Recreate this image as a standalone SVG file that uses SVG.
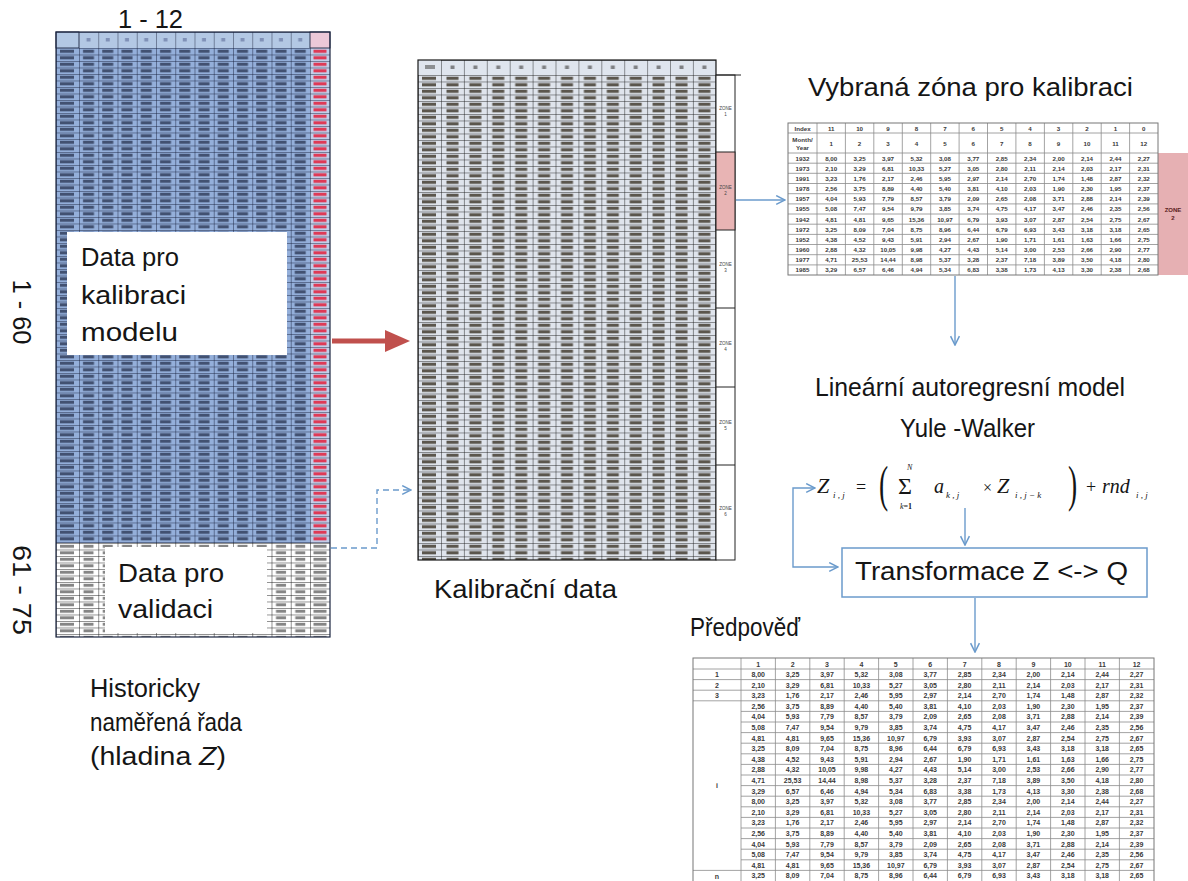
<svg xmlns="http://www.w3.org/2000/svg" width="1188" height="881" viewBox="0 0 1188 881">
<style>
.t{font-family:"Liberation Sans",Arial,sans-serif;fill:#151515;font-size:25px}
.v{font-family:"Liberation Sans",Arial,sans-serif;font-size:6.2px;font-weight:700;fill:#3a3a3a;text-anchor:middle}
.fv{font-family:"Liberation Sans",Arial,sans-serif;font-size:7px;font-weight:700;fill:#3a3a3a;text-anchor:middle}
.m{font-family:"Liberation Serif","Times New Roman",serif;fill:#151515}
.i{font-style:italic}
.ln{fill:none;stroke:#6b9bcc;stroke-width:1.4}
.g{stroke:#8c8c8c;stroke-width:0.8;fill:none}
</style>
<defs>
<pattern id="pBH" x="79" y="32" width="19.25" height="16" patternUnits="userSpaceOnUse"><rect width="19.25" height="16" fill="#b3c8e4"/><rect x="7.5" y="6" width="4" height="3.5" fill="#5d6d9a" opacity="0.6"/><path d="M0 0H19.25M0 0V16" stroke="#1b2540" stroke-width="0.9"/></pattern>
<pattern id="pB" x="79" y="48" width="19.25" height="6.5" patternUnits="userSpaceOnUse"><rect width="19.25" height="6.5" fill="#94afda"/><rect x="4" y="1.7" width="11" height="3.2" fill="#27314d" opacity="0.75"/><path d="M0 0H19.25M0 0V6.5" stroke="#16203a" stroke-width="0.9"/></pattern>
<pattern id="pBY" x="56" y="48" width="23" height="6.5" patternUnits="userSpaceOnUse"><rect width="23" height="6.5" fill="#94afda"/><rect x="4" y="1.7" width="14" height="3.2" fill="#27314d" opacity="0.75"/><path d="M0 0H23M0 0V6.5" stroke="#16203a" stroke-width="0.9"/></pattern>
<pattern id="pR" x="310" y="48" width="20" height="6.5" patternUnits="userSpaceOnUse"><rect width="20" height="6.5" fill="#c3cfea"/><rect x="3.5" y="1.7" width="13" height="3.2" fill="#e3203c" opacity="0.85"/><path d="M0 0H20M0 0V6.5" stroke="#16203a" stroke-width="0.9"/></pattern>
<pattern id="pW" x="79" y="543" width="19.25" height="6.5" patternUnits="userSpaceOnUse"><rect width="19.25" height="6.5" fill="#fff"/><rect x="4.5" y="1.8" width="10" height="3" fill="#333" opacity="0.6"/><path d="M0 0H19.25M0 0V6.5" stroke="#111" stroke-width="0.9"/></pattern>
<pattern id="pWY" x="56" y="543" width="23" height="6.5" patternUnits="userSpaceOnUse"><rect width="23" height="6.5" fill="#fff"/><rect x="4" y="1.8" width="14" height="3" fill="#333" opacity="0.6"/><path d="M0 0H23M0 0V6.5" stroke="#111" stroke-width="0.9"/></pattern>
<pattern id="pWR" x="310" y="543" width="20" height="6.5" patternUnits="userSpaceOnUse"><rect width="20" height="6.5" fill="#fff"/><rect x="3.5" y="1.8" width="13" height="3" fill="#333" opacity="0.6"/><path d="M0 0H20M0 0V6.5" stroke="#111" stroke-width="0.9"/></pattern>
<pattern id="pMH" x="441" y="60" width="22.9" height="15" patternUnits="userSpaceOnUse"><rect width="22.9" height="15" fill="#dfe5ee"/><rect x="9.5" y="5.5" width="4" height="3.5" fill="#555" opacity="0.7"/><path d="M0 0H22.9M0 0V15" stroke="#1a1a1a" stroke-width="0.9"/></pattern>
<pattern id="pM" x="441" y="75" width="22.9" height="6.5" patternUnits="userSpaceOnUse"><rect width="22.9" height="6.5" fill="#dfe4ec"/><rect x="5.5" y="1.7" width="12" height="3.2" fill="#3a3225" opacity="0.8"/><path d="M0 0H22.9M0 0V6.5" stroke="#1a1a1a" stroke-width="0.9"/></pattern>
<pattern id="pMY" x="418" y="75" width="23" height="6.5" patternUnits="userSpaceOnUse"><rect width="23" height="6.5" fill="#dfe4ec"/><rect x="4" y="1.7" width="14" height="3.2" fill="#3a3225" opacity="0.8"/><path d="M0 0H23M0 0V6.5" stroke="#1a1a1a" stroke-width="0.9"/></pattern>
<marker id="ah" viewBox="0 0 10 10" refX="9" refY="5" markerWidth="11" markerHeight="11" markerUnits="userSpaceOnUse" orient="auto-start-reverse"><path d="M1,1 L9,5 L1,9" fill="none" stroke="#6b9bcc" stroke-width="1.4"/></marker>
</defs>
<rect width="1188" height="881" fill="#fff"/>

<g id="historical-table">
<rect x="56" y="32" width="23" height="16" fill="#b3c8e4" stroke="#1b2540" stroke-width="0.9"/>
<rect x="79" y="32" width="231" height="16" fill="url(#pBH)"/>
<rect x="310" y="32" width="20" height="16" fill="#ecc8d8" stroke="#1b2540" stroke-width="0.9"/>
<rect x="56" y="48" width="23" height="495" fill="url(#pBY)"/>
<rect x="79" y="48" width="231" height="495" fill="url(#pB)"/>
<rect x="310" y="48" width="20" height="495" fill="url(#pR)"/>
<rect x="56" y="543" width="23" height="94" fill="url(#pWY)"/>
<rect x="79" y="543" width="231" height="94" fill="url(#pW)"/>
<rect x="310" y="543" width="20" height="94" fill="url(#pWR)"/>
<rect x="56" y="32" width="274" height="605" fill="none" stroke="#1b2540" stroke-width="1.2"/>
<text class="t" x="118" y="28" textLength="65" lengthAdjust="spacingAndGlyphs">1 - 12</text>
<text class="t" transform="translate(13,312) rotate(90)" text-anchor="middle" textLength="65" lengthAdjust="spacingAndGlyphs">1 - 60</text>
<text class="t" transform="translate(13,590) rotate(90)" text-anchor="middle" textLength="90" lengthAdjust="spacingAndGlyphs">61 - 75</text>
</g>

<g id="calibration-box">
<rect x="67" y="232" width="220" height="123" fill="#fff"/>
<text class="t" x="81" y="266" textLength="98" lengthAdjust="spacingAndGlyphs">Data pro</text>
<text class="t" x="81" y="304" textLength="105" lengthAdjust="spacingAndGlyphs">kalibraci</text>
<text class="t" x="81" y="341" textLength="97" lengthAdjust="spacingAndGlyphs">modelu</text>
</g>

<g id="validation-box">
<rect x="105" y="547" width="162" height="86" fill="#fff"/>
<text class="t" x="118" y="582" textLength="106" lengthAdjust="spacingAndGlyphs">Data pro</text>
<text class="t" x="118" y="618" textLength="95" lengthAdjust="spacingAndGlyphs">validaci</text>
</g>

<g id="historical-label">
<text class="t" x="90" y="697" textLength="110" lengthAdjust="spacingAndGlyphs">Historicky</text>
<text class="t" x="90" y="731" textLength="152" lengthAdjust="spacingAndGlyphs">naměřená řada</text>
<text class="t" x="90" y="765" textLength="136" lengthAdjust="spacingAndGlyphs">(hladina <tspan font-style="italic">Z</tspan>)</text>
</g>

<g id="calibration-table">
<rect x="418" y="60" width="23" height="15" fill="#dfe5ee"/>
<rect x="425" y="65" width="10" height="4" fill="#555" opacity="0.6"/>
<rect x="441" y="60" width="275" height="15" fill="url(#pMH)"/>
<rect x="418" y="75" width="23" height="485" fill="url(#pMY)"/>
<rect x="441" y="75" width="275" height="485" fill="url(#pM)"/>
<rect x="418" y="60" width="298" height="500" fill="none" stroke="#1a1a1a" stroke-width="1.2"/>
<rect x="716" y="75" width="19" height="485" fill="#fff" stroke="#222" stroke-width="1"/>
<rect x="716" y="152" width="19" height="78" fill="#e8b4b4" stroke="#222" stroke-width="1"/>
<path d="M716 75H741M716 308H735M716 387H735M716 465H735" stroke="#222" stroke-width="1"/>
<g font-family="Liberation Sans, Arial, sans-serif" font-size="4.5" fill="#444" text-anchor="middle">
<text x="725.5" y="110">ZONE</text><text x="725.5" y="116">1</text>
<text x="725.5" y="189">ZONE</text><text x="725.5" y="195">2</text>
<text x="725.5" y="266">ZONE</text><text x="725.5" y="272">3</text>
<text x="725.5" y="345">ZONE</text><text x="725.5" y="351">4</text>
<text x="725.5" y="424">ZONE</text><text x="725.5" y="430">5</text>
<text x="725.5" y="510">ZONE</text><text x="725.5" y="516">6</text>
</g>
<text class="t" x="434" y="598" textLength="183" lengthAdjust="spacingAndGlyphs">Kalibrační data</text>
</g>

<g id="selected-zone">
<text class="t" x="808" y="96" textLength="325" lengthAdjust="spacingAndGlyphs">Vybraná zóna pro kalibraci</text>
<rect x="788" y="123" width="370" height="152" fill="#fff"/>
<rect x="1158" y="153" width="30" height="122" fill="#e6b0b3"/>
<text x="1173" y="212" font-family="Liberation Sans, Arial, sans-serif" font-size="6" font-weight="700" fill="#5a2020" text-anchor="middle">ZONE</text>
<text x="1173" y="220" font-family="Liberation Sans, Arial, sans-serif" font-size="6" font-weight="700" fill="#5a2020" text-anchor="middle">2</text>
<path class="g" d="M817 123V275M845.4 123V275M873.8 123V275M902.3 123V275M930.7 123V275M959.1 123V275M987.5 123V275M1015.9 123V275M1044.4 123V275M1072.8 123V275M1101.2 123V275M1129.6 123V275M788 133H1158M788 153H1158M788 163.2H1158M788 173.3H1158M788 183.5H1158M788 193.7H1158M788 203.9H1158M788 214H1158M788 224.2H1158M788 234.4H1158M788 244.5H1158M788 254.7H1158M788 264.9H1158"/>
<rect x="788" y="123" width="370" height="152" fill="none" stroke="#777" stroke-width="1"/>
<text class="v" y="130.5"><tspan x="802.5">Index</tspan><tspan x="831.2">11</tspan><tspan x="859.6">10</tspan><tspan x="888">9</tspan><tspan x="916.5">8</tspan><tspan x="944.9">7</tspan><tspan x="973.3">6</tspan><tspan x="1001.7">5</tspan><tspan x="1030.1">4</tspan><tspan x="1058.6">3</tspan><tspan x="1087">2</tspan><tspan x="1115.4">1</tspan><tspan x="1143.8">0</tspan></text>
<text class="v" x="802.5" y="141.5">Month/</text>
<text class="v" x="802.5" y="149.5">Year</text>
<text class="v" y="145.5"><tspan x="831.2">1</tspan><tspan x="859.6">2</tspan><tspan x="888">3</tspan><tspan x="916.5">4</tspan><tspan x="944.9">5</tspan><tspan x="973.3">6</tspan><tspan x="1001.7">7</tspan><tspan x="1030.1">8</tspan><tspan x="1058.6">9</tspan><tspan x="1087">10</tspan><tspan x="1115.4">11</tspan><tspan x="1143.8">12</tspan></text>
<text class="v" y="160.5"><tspan x="802.5">1932</tspan><tspan x="831.2">8,00</tspan><tspan x="859.6">3,25</tspan><tspan x="888">3,97</tspan><tspan x="916.5">5,32</tspan><tspan x="944.9">3,08</tspan><tspan x="973.3">3,77</tspan><tspan x="1001.7">2,85</tspan><tspan x="1030.1">2,34</tspan><tspan x="1058.6">2,00</tspan><tspan x="1087">2,14</tspan><tspan x="1115.4">2,44</tspan><tspan x="1143.8">2,27</tspan></text>
<text class="v" y="170.6"><tspan x="802.5">1973</tspan><tspan x="831.2">2,10</tspan><tspan x="859.6">3,29</tspan><tspan x="888">6,81</tspan><tspan x="916.5">10,33</tspan><tspan x="944.9">5,27</tspan><tspan x="973.3">3,05</tspan><tspan x="1001.7">2,80</tspan><tspan x="1030.1">2,11</tspan><tspan x="1058.6">2,14</tspan><tspan x="1087">2,03</tspan><tspan x="1115.4">2,17</tspan><tspan x="1143.8">2,31</tspan></text>
<text class="v" y="180.8"><tspan x="802.5">1991</tspan><tspan x="831.2">3,23</tspan><tspan x="859.6">1,76</tspan><tspan x="888">2,17</tspan><tspan x="916.5">2,46</tspan><tspan x="944.9">5,95</tspan><tspan x="973.3">2,97</tspan><tspan x="1001.7">2,14</tspan><tspan x="1030.1">2,70</tspan><tspan x="1058.6">1,74</tspan><tspan x="1087">1,48</tspan><tspan x="1115.4">2,87</tspan><tspan x="1143.8">2,32</tspan></text>
<text class="v" y="191"><tspan x="802.5">1978</tspan><tspan x="831.2">2,56</tspan><tspan x="859.6">3,75</tspan><tspan x="888">8,89</tspan><tspan x="916.5">4,40</tspan><tspan x="944.9">5,40</tspan><tspan x="973.3">3,81</tspan><tspan x="1001.7">4,10</tspan><tspan x="1030.1">2,03</tspan><tspan x="1058.6">1,90</tspan><tspan x="1087">2,30</tspan><tspan x="1115.4">1,95</tspan><tspan x="1143.8">2,37</tspan></text>
<text class="v" y="201.2"><tspan x="802.5">1957</tspan><tspan x="831.2">4,04</tspan><tspan x="859.6">5,93</tspan><tspan x="888">7,79</tspan><tspan x="916.5">8,57</tspan><tspan x="944.9">3,79</tspan><tspan x="973.3">2,09</tspan><tspan x="1001.7">2,65</tspan><tspan x="1030.1">2,08</tspan><tspan x="1058.6">3,71</tspan><tspan x="1087">2,88</tspan><tspan x="1115.4">2,14</tspan><tspan x="1143.8">2,39</tspan></text>
<text class="v" y="211.3"><tspan x="802.5">1955</tspan><tspan x="831.2">5,08</tspan><tspan x="859.6">7,47</tspan><tspan x="888">9,54</tspan><tspan x="916.5">9,79</tspan><tspan x="944.9">3,85</tspan><tspan x="973.3">3,74</tspan><tspan x="1001.7">4,75</tspan><tspan x="1030.1">4,17</tspan><tspan x="1058.6">3,47</tspan><tspan x="1087">2,46</tspan><tspan x="1115.4">2,35</tspan><tspan x="1143.8">2,56</tspan></text>
<text class="v" y="221.5"><tspan x="802.5">1942</tspan><tspan x="831.2">4,81</tspan><tspan x="859.6">4,81</tspan><tspan x="888">9,65</tspan><tspan x="916.5">15,36</tspan><tspan x="944.9">10,97</tspan><tspan x="973.3">6,79</tspan><tspan x="1001.7">3,93</tspan><tspan x="1030.1">3,07</tspan><tspan x="1058.6">2,87</tspan><tspan x="1087">2,54</tspan><tspan x="1115.4">2,75</tspan><tspan x="1143.8">2,67</tspan></text>
<text class="v" y="231.7"><tspan x="802.5">1972</tspan><tspan x="831.2">3,25</tspan><tspan x="859.6">8,09</tspan><tspan x="888">7,04</tspan><tspan x="916.5">8,75</tspan><tspan x="944.9">8,96</tspan><tspan x="973.3">6,44</tspan><tspan x="1001.7">6,79</tspan><tspan x="1030.1">6,93</tspan><tspan x="1058.6">3,43</tspan><tspan x="1087">3,18</tspan><tspan x="1115.4">3,18</tspan><tspan x="1143.8">2,65</tspan></text>
<text class="v" y="241.9"><tspan x="802.5">1952</tspan><tspan x="831.2">4,38</tspan><tspan x="859.6">4,52</tspan><tspan x="888">9,43</tspan><tspan x="916.5">5,91</tspan><tspan x="944.9">2,94</tspan><tspan x="973.3">2,67</tspan><tspan x="1001.7">1,90</tspan><tspan x="1030.1">1,71</tspan><tspan x="1058.6">1,61</tspan><tspan x="1087">1,63</tspan><tspan x="1115.4">1,66</tspan><tspan x="1143.8">2,75</tspan></text>
<text class="v" y="252"><tspan x="802.5">1960</tspan><tspan x="831.2">2,88</tspan><tspan x="859.6">4,32</tspan><tspan x="888">10,05</tspan><tspan x="916.5">9,98</tspan><tspan x="944.9">4,27</tspan><tspan x="973.3">4,43</tspan><tspan x="1001.7">5,14</tspan><tspan x="1030.1">3,00</tspan><tspan x="1058.6">2,53</tspan><tspan x="1087">2,66</tspan><tspan x="1115.4">2,90</tspan><tspan x="1143.8">2,77</tspan></text>
<text class="v" y="262.2"><tspan x="802.5">1977</tspan><tspan x="831.2">4,71</tspan><tspan x="859.6">25,53</tspan><tspan x="888">14,44</tspan><tspan x="916.5">8,98</tspan><tspan x="944.9">5,37</tspan><tspan x="973.3">3,28</tspan><tspan x="1001.7">2,37</tspan><tspan x="1030.1">7,18</tspan><tspan x="1058.6">3,89</tspan><tspan x="1087">3,50</tspan><tspan x="1115.4">4,18</tspan><tspan x="1143.8">2,80</tspan></text>
<text class="v" y="272.4"><tspan x="802.5">1985</tspan><tspan x="831.2">3,29</tspan><tspan x="859.6">6,57</tspan><tspan x="888">6,46</tspan><tspan x="916.5">4,94</tspan><tspan x="944.9">5,34</tspan><tspan x="973.3">6,83</tspan><tspan x="1001.7">3,38</tspan><tspan x="1030.1">1,73</tspan><tspan x="1058.6">4,13</tspan><tspan x="1087">3,30</tspan><tspan x="1115.4">2,38</tspan><tspan x="1143.8">2,68</tspan></text>
</g>

<g id="model-title">
<text class="t" x="815" y="396" textLength="310" lengthAdjust="spacingAndGlyphs">Lineární autoregresní model</text>
<text class="t" x="900" y="437" textLength="135" lengthAdjust="spacingAndGlyphs">Yule -Walker</text>
</g>

<g id="formula">
<text class="m i" x="817" y="493" font-size="22">Z</text>
<text class="m i" x="833" y="498" font-size="9">i , j</text>
<text class="m" x="856" y="493" font-size="18">=</text>
<text class="m" transform="translate(879,501) scale(0.55,1)" font-size="50">(</text>
<text class="m" x="898" y="494" font-size="24">Σ</text>
<text class="m i" x="907" y="470" font-size="8">N</text>
<text class="m" x="900" y="509" font-size="8"><tspan font-style="italic">k</tspan><tspan font-weight="700">=1</tspan></text>
<text class="m i" x="934" y="493" font-size="20">a</text>
<text class="m i" x="946" y="498" font-size="9">k , j</text>
<text class="m" x="983" y="493" font-size="16">×</text>
<text class="m i" x="997" y="493" font-size="22">Z</text>
<text class="m i" x="1015" y="498" font-size="9">i , j − k</text>
<text class="m" transform="translate(1068,501) scale(0.55,1)" font-size="50">)</text>
<text class="m" x="1086" y="493" font-size="18">+</text>
<text class="m i" x="1102" y="493" font-size="20">rnd</text>
<text class="m i" x="1136" y="498" font-size="9">i , j</text>
</g>

<g id="transformation">
<rect x="842" y="548" width="305" height="49" fill="#fff" stroke="#6b9bcc" stroke-width="1.5"/>
<text class="t" x="855" y="580" textLength="273" lengthAdjust="spacingAndGlyphs">Transformace Z &lt;-&gt; Q</text>
</g>

<g id="forecast">
<text class="t" x="690" y="636" textLength="110" lengthAdjust="spacingAndGlyphs">Předpověď</text>
<rect x="693" y="658" width="461" height="230" fill="#fff"/>
<path class="g" d="M741 658V881M775.4 658V881M809.8 658V881M844.2 658V881M878.6 658V881M913 658V881M947.4 658V881M981.8 658V881M1016.2 658V881M1050.6 658V881M1085 658V881M1119.4 658V881M693 669H1154M693 679.6H1154M693 690.2H1154M693 700.8H1154M741 711.4H1154M741 722H1154M741 732.6H1154M741 743.2H1154M741 753.8H1154M741 764.4H1154M741 775H1154M741 785.6H1154M741 796.2H1154M741 806.8H1154M741 817.4H1154M741 828H1154M741 838.6H1154M741 849.2H1154M741 859.8H1154M693 870.4H1154"/>
<rect x="693" y="658" width="461" height="230" fill="none" stroke="#777" stroke-width="1"/>
<text class="fv" y="666.5"><tspan x="758.2">1</tspan><tspan x="792.6">2</tspan><tspan x="827">3</tspan><tspan x="861.4">4</tspan><tspan x="895.8">5</tspan><tspan x="930.2">6</tspan><tspan x="964.6">7</tspan><tspan x="999">8</tspan><tspan x="1033.4">9</tspan><tspan x="1067.8">10</tspan><tspan x="1102.2">11</tspan><tspan x="1136.6">12</tspan></text>
<text class="fv" x="717" y="677">1</text>
<text class="fv" x="717" y="687.6">2</text>
<text class="fv" x="717" y="698.2">3</text>
<text class="fv" x="717" y="788">i</text>
<text class="fv" x="717" y="878.5">n</text>
<text class="fv" y="676.9"><tspan x="758.2">8,00</tspan><tspan x="792.6">3,25</tspan><tspan x="827">3,97</tspan><tspan x="861.4">5,32</tspan><tspan x="895.8">3,08</tspan><tspan x="930.2">3,77</tspan><tspan x="964.6">2,85</tspan><tspan x="999">2,34</tspan><tspan x="1033.4">2,00</tspan><tspan x="1067.8">2,14</tspan><tspan x="1102.2">2,44</tspan><tspan x="1136.6">2,27</tspan></text>
<text class="fv" y="687.5"><tspan x="758.2">2,10</tspan><tspan x="792.6">3,29</tspan><tspan x="827">6,81</tspan><tspan x="861.4">10,33</tspan><tspan x="895.8">5,27</tspan><tspan x="930.2">3,05</tspan><tspan x="964.6">2,80</tspan><tspan x="999">2,11</tspan><tspan x="1033.4">2,14</tspan><tspan x="1067.8">2,03</tspan><tspan x="1102.2">2,17</tspan><tspan x="1136.6">2,31</tspan></text>
<text class="fv" y="698.1"><tspan x="758.2">3,23</tspan><tspan x="792.6">1,76</tspan><tspan x="827">2,17</tspan><tspan x="861.4">2,46</tspan><tspan x="895.8">5,95</tspan><tspan x="930.2">2,97</tspan><tspan x="964.6">2,14</tspan><tspan x="999">2,70</tspan><tspan x="1033.4">1,74</tspan><tspan x="1067.8">1,48</tspan><tspan x="1102.2">2,87</tspan><tspan x="1136.6">2,32</tspan></text>
<text class="fv" y="708.7"><tspan x="758.2">2,56</tspan><tspan x="792.6">3,75</tspan><tspan x="827">8,89</tspan><tspan x="861.4">4,40</tspan><tspan x="895.8">5,40</tspan><tspan x="930.2">3,81</tspan><tspan x="964.6">4,10</tspan><tspan x="999">2,03</tspan><tspan x="1033.4">1,90</tspan><tspan x="1067.8">2,30</tspan><tspan x="1102.2">1,95</tspan><tspan x="1136.6">2,37</tspan></text>
<text class="fv" y="719.3"><tspan x="758.2">4,04</tspan><tspan x="792.6">5,93</tspan><tspan x="827">7,79</tspan><tspan x="861.4">8,57</tspan><tspan x="895.8">3,79</tspan><tspan x="930.2">2,09</tspan><tspan x="964.6">2,65</tspan><tspan x="999">2,08</tspan><tspan x="1033.4">3,71</tspan><tspan x="1067.8">2,88</tspan><tspan x="1102.2">2,14</tspan><tspan x="1136.6">2,39</tspan></text>
<text class="fv" y="729.9"><tspan x="758.2">5,08</tspan><tspan x="792.6">7,47</tspan><tspan x="827">9,54</tspan><tspan x="861.4">9,79</tspan><tspan x="895.8">3,85</tspan><tspan x="930.2">3,74</tspan><tspan x="964.6">4,75</tspan><tspan x="999">4,17</tspan><tspan x="1033.4">3,47</tspan><tspan x="1067.8">2,46</tspan><tspan x="1102.2">2,35</tspan><tspan x="1136.6">2,56</tspan></text>
<text class="fv" y="740.5"><tspan x="758.2">4,81</tspan><tspan x="792.6">4,81</tspan><tspan x="827">9,65</tspan><tspan x="861.4">15,36</tspan><tspan x="895.8">10,97</tspan><tspan x="930.2">6,79</tspan><tspan x="964.6">3,93</tspan><tspan x="999">3,07</tspan><tspan x="1033.4">2,87</tspan><tspan x="1067.8">2,54</tspan><tspan x="1102.2">2,75</tspan><tspan x="1136.6">2,67</tspan></text>
<text class="fv" y="751.1"><tspan x="758.2">3,25</tspan><tspan x="792.6">8,09</tspan><tspan x="827">7,04</tspan><tspan x="861.4">8,75</tspan><tspan x="895.8">8,96</tspan><tspan x="930.2">6,44</tspan><tspan x="964.6">6,79</tspan><tspan x="999">6,93</tspan><tspan x="1033.4">3,43</tspan><tspan x="1067.8">3,18</tspan><tspan x="1102.2">3,18</tspan><tspan x="1136.6">2,65</tspan></text>
<text class="fv" y="761.7"><tspan x="758.2">4,38</tspan><tspan x="792.6">4,52</tspan><tspan x="827">9,43</tspan><tspan x="861.4">5,91</tspan><tspan x="895.8">2,94</tspan><tspan x="930.2">2,67</tspan><tspan x="964.6">1,90</tspan><tspan x="999">1,71</tspan><tspan x="1033.4">1,61</tspan><tspan x="1067.8">1,63</tspan><tspan x="1102.2">1,66</tspan><tspan x="1136.6">2,75</tspan></text>
<text class="fv" y="772.3"><tspan x="758.2">2,88</tspan><tspan x="792.6">4,32</tspan><tspan x="827">10,05</tspan><tspan x="861.4">9,98</tspan><tspan x="895.8">4,27</tspan><tspan x="930.2">4,43</tspan><tspan x="964.6">5,14</tspan><tspan x="999">3,00</tspan><tspan x="1033.4">2,53</tspan><tspan x="1067.8">2,66</tspan><tspan x="1102.2">2,90</tspan><tspan x="1136.6">2,77</tspan></text>
<text class="fv" y="782.9"><tspan x="758.2">4,71</tspan><tspan x="792.6">25,53</tspan><tspan x="827">14,44</tspan><tspan x="861.4">8,98</tspan><tspan x="895.8">5,37</tspan><tspan x="930.2">3,28</tspan><tspan x="964.6">2,37</tspan><tspan x="999">7,18</tspan><tspan x="1033.4">3,89</tspan><tspan x="1067.8">3,50</tspan><tspan x="1102.2">4,18</tspan><tspan x="1136.6">2,80</tspan></text>
<text class="fv" y="793.5"><tspan x="758.2">3,29</tspan><tspan x="792.6">6,57</tspan><tspan x="827">6,46</tspan><tspan x="861.4">4,94</tspan><tspan x="895.8">5,34</tspan><tspan x="930.2">6,83</tspan><tspan x="964.6">3,38</tspan><tspan x="999">1,73</tspan><tspan x="1033.4">4,13</tspan><tspan x="1067.8">3,30</tspan><tspan x="1102.2">2,38</tspan><tspan x="1136.6">2,68</tspan></text>
<text class="fv" y="804.1"><tspan x="758.2">8,00</tspan><tspan x="792.6">3,25</tspan><tspan x="827">3,97</tspan><tspan x="861.4">5,32</tspan><tspan x="895.8">3,08</tspan><tspan x="930.2">3,77</tspan><tspan x="964.6">2,85</tspan><tspan x="999">2,34</tspan><tspan x="1033.4">2,00</tspan><tspan x="1067.8">2,14</tspan><tspan x="1102.2">2,44</tspan><tspan x="1136.6">2,27</tspan></text>
<text class="fv" y="814.7"><tspan x="758.2">2,10</tspan><tspan x="792.6">3,29</tspan><tspan x="827">6,81</tspan><tspan x="861.4">10,33</tspan><tspan x="895.8">5,27</tspan><tspan x="930.2">3,05</tspan><tspan x="964.6">2,80</tspan><tspan x="999">2,11</tspan><tspan x="1033.4">2,14</tspan><tspan x="1067.8">2,03</tspan><tspan x="1102.2">2,17</tspan><tspan x="1136.6">2,31</tspan></text>
<text class="fv" y="825.3"><tspan x="758.2">3,23</tspan><tspan x="792.6">1,76</tspan><tspan x="827">2,17</tspan><tspan x="861.4">2,46</tspan><tspan x="895.8">5,95</tspan><tspan x="930.2">2,97</tspan><tspan x="964.6">2,14</tspan><tspan x="999">2,70</tspan><tspan x="1033.4">1,74</tspan><tspan x="1067.8">1,48</tspan><tspan x="1102.2">2,87</tspan><tspan x="1136.6">2,32</tspan></text>
<text class="fv" y="835.9"><tspan x="758.2">2,56</tspan><tspan x="792.6">3,75</tspan><tspan x="827">8,89</tspan><tspan x="861.4">4,40</tspan><tspan x="895.8">5,40</tspan><tspan x="930.2">3,81</tspan><tspan x="964.6">4,10</tspan><tspan x="999">2,03</tspan><tspan x="1033.4">1,90</tspan><tspan x="1067.8">2,30</tspan><tspan x="1102.2">1,95</tspan><tspan x="1136.6">2,37</tspan></text>
<text class="fv" y="846.5"><tspan x="758.2">4,04</tspan><tspan x="792.6">5,93</tspan><tspan x="827">7,79</tspan><tspan x="861.4">8,57</tspan><tspan x="895.8">3,79</tspan><tspan x="930.2">2,09</tspan><tspan x="964.6">2,65</tspan><tspan x="999">2,08</tspan><tspan x="1033.4">3,71</tspan><tspan x="1067.8">2,88</tspan><tspan x="1102.2">2,14</tspan><tspan x="1136.6">2,39</tspan></text>
<text class="fv" y="857.1"><tspan x="758.2">5,08</tspan><tspan x="792.6">7,47</tspan><tspan x="827">9,54</tspan><tspan x="861.4">9,79</tspan><tspan x="895.8">3,85</tspan><tspan x="930.2">3,74</tspan><tspan x="964.6">4,75</tspan><tspan x="999">4,17</tspan><tspan x="1033.4">3,47</tspan><tspan x="1067.8">2,46</tspan><tspan x="1102.2">2,35</tspan><tspan x="1136.6">2,56</tspan></text>
<text class="fv" y="867.7"><tspan x="758.2">4,81</tspan><tspan x="792.6">4,81</tspan><tspan x="827">9,65</tspan><tspan x="861.4">15,36</tspan><tspan x="895.8">10,97</tspan><tspan x="930.2">6,79</tspan><tspan x="964.6">3,93</tspan><tspan x="999">3,07</tspan><tspan x="1033.4">2,87</tspan><tspan x="1067.8">2,54</tspan><tspan x="1102.2">2,75</tspan><tspan x="1136.6">2,67</tspan></text>
<text class="fv" y="878.3"><tspan x="758.2">3,25</tspan><tspan x="792.6">8,09</tspan><tspan x="827">7,04</tspan><tspan x="861.4">8,75</tspan><tspan x="895.8">8,96</tspan><tspan x="930.2">6,44</tspan><tspan x="964.6">6,79</tspan><tspan x="999">6,93</tspan><tspan x="1033.4">3,43</tspan><tspan x="1067.8">3,18</tspan><tspan x="1102.2">3,18</tspan><tspan x="1136.6">2,65</tspan></text>
</g>

<g id="connectors">
<path d="M332 341H388" stroke="#c0504d" stroke-width="5" fill="none"/>
<polygon points="385,330 410,341 385,352" fill="#c0504d"/>
<path class="ln" d="M331 548H377V490H411" stroke-dasharray="6,4" stroke-width="2" marker-end="url(#ah)"/>
<path class="ln" d="M736 200H785" marker-end="url(#ah)"/>
<path class="ln" d="M955 276V345" marker-end="url(#ah)"/>
<path class="ln" d="M815 488H793V567H838" marker-start="url(#ah)" marker-end="url(#ah)"/>
<path class="ln" d="M965 508V545" marker-end="url(#ah)"/>
<path class="ln" d="M975 598V652" marker-end="url(#ah)"/>
</g>
</svg>
